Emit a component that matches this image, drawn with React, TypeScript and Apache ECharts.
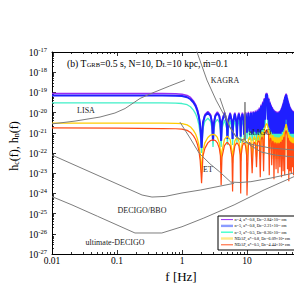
import React, { useEffect, useRef } from "react";
import * as echarts from "echarts";

const SERIF = "'Liberation Serif', 'Times New Roman', 'DejaVu Serif', serif";

// Frequency grid (Hz) shared by the five signal curves
const FREQ_HZ = [
  0.01, 0.1, 0.5, 0.8, 1.0, 1.2, 1.35, 1.5, 1.62, 1.73, 1.82, 1.9, 1.96, 2.0,
  2.1, 2.25, 2.5, 2.75, 2.9, 3.0, 3.1, 3.25, 3.5, 3.75, 3.9, 4.0,
  4.12, 4.5, 4.88, 5.0, 5.12, 5.5, 5.88, 6.0, 6.12, 6.5, 6.88, 7.0,
  7.15, 7.5, 7.85, 8.0, 8.15, 8.5, 8.85, 9.0, 9.15, 9.5, 9.85, 10.0,
  10.5, 11, 11.5, 12, 12.5, 13, 13.5, 14, 14.5, 15, 15.5, 16, 16.5, 17, 17.5, 18, 18.5, 19, 19.5, 20,
  20.5, 21, 21.5, 22, 22.5, 23, 23.5, 24, 24.5, 25, 25.5, 26, 26.5, 27, 27.5, 28, 28.5, 29, 29.5, 30,
  30.5, 31, 31.5, 32, 32.5, 33, 33.5, 34, 34.5, 35, 35.5, 36, 36.5, 37, 37.5, 38, 38.5, 39, 39.5, 40,
  40.5, 41, 41.5, 42, 42.5, 43, 43.5, 44, 44.5, 45, 45.5, 46, 46.5, 47, 47.5, 48, 48.5, 49, 49.5, 50,
  50.5, 51, 51.5, 52, 52.5, 53,
];

// log10 h_c for each signal curve
const LOG_HC_N4_A08 = [
  -19.06, -19.06, -19.06, -19.07, -19.09, -19.15, -19.25, -19.42, -19.6, -19.85, -20.15, -20.55, -21.1, -21.7,
  -20.46, -20.1, -19.95, -20.1, -20.46, -21.4, -20.48, -20.12, -19.97, -20.12, -20.48, -21.4,
  -20.41, -19.98, -20.41, -21.3, -20.43, -20.0, -20.43, -21.3, -20.43, -20.0, -20.43, -21.2,
  -20.34, -20.0, -20.34, -21.2, -20.34, -20.0, -20.34, -21.1, -20.33, -19.98, -20.33, -21.0,
  -19.96, -20.9, -19.95, -21.0, -19.93, -20.9, -19.9, -21.0, -19.85, -20.9, -19.75, -20.95, -19.6, -20.8, -19.45, -20.7, -19.28, -20.3, -19.1, -19.03,
  -19.1, -20.3, -19.27, -20.7, -19.45, -20.8, -19.6, -20.9, -19.72, -21.0, -19.82, -20.9, -19.88, -21.0, -19.92, -20.9, -19.95, -21.0, -19.96, -20.9,
  -19.95, -21.0, -19.92, -20.9, -19.88, -21.0, -19.8, -20.9, -19.7, -20.9, -19.58, -20.8, -19.45, -20.7, -19.3, -20.6, -19.17, -20.3, -19.08, -19.05,
  -19.1, -20.3, -19.22, -20.6, -19.35, -20.7, -19.48, -20.8, -19.58, -20.9, -19.68, -20.9, -19.75, -21.0, -19.8, -20.9, -19.85, -21.0, -19.88, -20.9,
  -19.9, -21.0, -19.92, -20.9, -19.93, -21.0,
];

const LOG_HC_N5_A08 = [
  -19.15, -19.15, -19.15, -19.16, -19.18, -19.24, -19.34, -19.5, -19.68, -19.93, -20.22, -20.62, -21.17, -21.75,
  -20.52, -20.16, -20.01, -20.16, -20.52, -21.4, -20.54, -20.18, -20.03, -20.18, -20.54, -21.4,
  -20.47, -20.04, -20.47, -21.3, -20.49, -20.06, -20.49, -21.3, -20.49, -20.06, -20.49, -21.2,
  -20.4, -20.06, -20.4, -21.2, -20.4, -20.06, -20.4, -21.1, -20.38, -20.04, -20.38, -21.0,
  -20.02, -20.95, -20.01, -21.05, -19.99, -20.95, -19.96, -21.05, -19.91, -20.95, -19.81, -21.0, -19.66, -20.85, -19.51, -20.75, -19.34, -20.35, -19.16, -19.09,
  -19.16, -20.35, -19.33, -20.75, -19.51, -20.85, -19.66, -20.95, -19.78, -21.05, -19.88, -20.95, -19.94, -21.05, -19.98, -20.95, -20.01, -21.05, -20.02, -20.95,
  -20.01, -21.05, -19.98, -20.95, -19.94, -21.05, -19.86, -20.95, -19.76, -20.95, -19.64, -20.85, -19.51, -20.75, -19.36, -20.65, -19.23, -20.35, -19.14, -19.11,
  -19.16, -20.35, -19.28, -20.65, -19.41, -20.75, -19.54, -20.85, -19.64, -20.95, -19.74, -20.95, -19.81, -21.05, -19.86, -20.95, -19.91, -21.05, -19.94, -20.95,
  -19.96, -21.05, -19.98, -20.95, -19.99, -21.05,
];

const LOG_HC_N3_A05 = [
  -19.52, -19.52, -19.52, -19.53, -19.55, -19.61, -19.71, -19.88, -20.06, -20.31, -20.61, -21.01, -21.55, -22.0,
  -20.79, -20.43, -20.28, -20.43, -20.79, -21.7, -20.84, -20.48, -20.33, -20.48, -20.84, -21.7,
  -20.79, -20.36, -20.79, -21.6, -20.81, -20.38, -20.81, -21.6, -20.81, -20.38, -20.81, -21.5,
  -20.7, -20.36, -20.7, -21.5, -20.69, -20.35, -20.69, -21.4, -20.68, -20.34, -20.68, -21.3,
  -20.38, -21.35, -20.38, -21.4, -20.37, -21.35, -20.35, -21.4, -20.3, -21.35, -20.23, -21.35, -20.12, -21.25, -19.98, -21.15, -19.82, -20.75, -19.57, -19.48,
  -19.57, -20.75, -19.78, -21.15, -19.95, -21.25, -20.09, -21.35, -20.19, -21.4, -20.27, -21.35, -20.32, -21.4, -20.36, -21.35, -20.38, -21.4, -20.39, -21.35,
  -20.38, -21.4, -20.36, -21.35, -20.32, -21.4, -20.26, -21.35, -20.17, -21.35, -20.06, -21.25, -19.93, -21.15, -19.8, -21.05, -19.67, -20.75, -19.54, -19.5,
  -19.57, -20.75, -19.7, -21.05, -19.83, -21.15, -19.95, -21.25, -20.06, -21.35, -20.14, -21.35, -20.21, -21.4, -20.26, -21.35, -20.3, -21.4, -20.33, -21.35,
  -20.35, -21.4, -20.36, -21.35, -20.37, -21.4,
];

const LOG_HC_NDAF_A08 = [
  -20.52, -20.52, -20.52, -20.53, -20.55, -20.61, -20.71, -20.88, -21.06, -21.31, -21.61, -22.0, -22.5, -23.0,
  -21.88, -21.5, -21.23, -21.11, -21.09, -21.08, -21.09, -21.11, -21.23, -21.5, -21.88, -22.5,
  -21.91, -21.33, -21.19, -21.18, -21.19, -21.33, -21.91, -22.5, -21.98, -21.4, -21.26, -21.25,
  -21.27, -21.4, -21.85, -22.4, -21.87, -21.42, -21.29, -21.27, -21.29, -21.42, -21.87, -22.4,
  -21.35, -21.2, -21.33, -22.3, -21.33, -21.18, -21.3, -22.2, -21.25, -21.1, -21.2, -22.3, -21.1, -20.95, -21.05, -22.1, -20.85, -20.72, -20.6, -20.55,
  -20.6, -20.72, -20.85, -22.1, -21.1, -20.98, -21.1, -22.3, -21.25, -21.12, -21.25, -22.2, -21.33, -21.2, -21.33, -22.3, -21.35, -21.22, -21.36, -22.3,
  -21.36, -21.22, -21.35, -22.2, -21.32, -21.18, -21.3, -22.3, -21.25, -21.1, -21.2, -22.2, -21.08, -20.95, -21.05, -22.1, -20.85, -20.72, -20.62, -20.58,
  -20.63, -20.75, -20.88, -22.1, -21.1, -20.98, -21.1, -22.2, -21.22, -21.1, -21.22, -22.3, -21.3, -21.18, -21.3, -22.2, -21.35, -21.22, -21.36, -22.3,
  -21.38, -21.24, -21.38, -22.3, -21.39, -21.25,
];

const LOG_HC_NDAF_A05 = [
  -20.76, -20.77, -20.79, -20.8, -20.82, -20.88, -20.98, -21.15, -21.33, -21.58, -21.9, -22.35, -23.0, -23.5,
  -22.15, -21.77, -21.5, -21.38, -21.36, -21.35, -21.36, -21.38, -21.5, -21.77, -22.15, -23.6,
  -22.21, -21.63, -21.49, -21.48, -21.49, -21.63, -22.21, -23.9, -22.23, -21.65, -21.51, -21.5,
  -21.52, -21.65, -22.1, -24.0, -22.1, -21.65, -21.52, -21.5, -21.52, -21.65, -22.1, -24.1,
  -21.62, -21.47, -21.6, -23.0, -21.6, -21.45, -21.56, -22.7, -21.52, -21.38, -21.45, -23.2, -21.35, -21.2, -21.3, -22.9, -21.12, -21.0, -20.9, -20.85,
  -20.9, -21.0, -21.12, -23.1, -21.38, -21.25, -21.37, -22.6, -21.52, -21.4, -21.52, -23.3, -21.6, -21.48, -21.6, -22.8, -21.62, -21.5, -21.63, -23.0,
  -21.63, -21.5, -21.62, -22.7, -21.58, -21.45, -21.56, -23.2, -21.5, -21.35, -21.45, -22.9, -21.32, -21.2, -21.3, -23.1, -21.12, -21.0, -20.92, -20.88,
  -20.93, -21.05, -21.15, -22.8, -21.38, -21.25, -21.36, -23.4, -21.5, -21.38, -21.5, -22.9, -21.57, -21.45, -21.57, -23.0, -21.62, -21.5, -21.63, -22.7,
  -21.65, -21.52, -21.65, -23.1, -21.66, -21.52,
];

// Detector sensitivity curves: [f (Hz), log10 h_n]
const LISA: [number, number][] = [
  [0.01, -20.56], [0.0226, -20.42], [0.0548, -20.22], [0.093, -20.02], [0.133, -19.8],
  [0.226, -19.3], [0.32, -19.08], [0.65, -18.68], [1.11, -18.39],
];
const KAGRA: [number, number][] = [
  [1.5, -16.5], [1.7, -17.0], [2.42, -18.39], [3.34, -19.38], [4.27, -20.02], [5.47, -20.71],
  [6.77, -21.21], [9.0, -21.46], [12.8, -21.6], [22.6, -21.75], [52.8, -21.85], [100, -21.9],
];
const ALIGO: [number, number][] = [
  [3.83, -19.28], [4.8, -20.2], [5.47, -20.76], [6.77, -21.16], [7.8, -21.31], [9.15, -21.36],
  [9.31, -19.48], [9.48, -21.38], [11.0, -21.6], [16.5, -21.95], [26.9, -22.1], [52.8, -22.2], [100, -22.25],
];
const ET: [number, number][] = [
  [0.93, -20.47], [1.33, -21.26], [1.83, -22.0], [2.7, -22.54], [3.82, -22.94], [5.63, -23.44],
  [7.8, -23.46], [11.5, -23.42], [23.3, -23.24], [52.8, -22.99], [100, -22.84],
];
const DECIGO_BBO: [number, number][] = [
  [0.01, -22.1], [0.1, -23.53], [0.243, -24.08], [0.345, -24.18], [0.55, -24.15], [1.0, -23.98],
  [1.94, -23.83], [3.46, -23.67], [6.33, -23.5],
];
const ULTIMATE_DECIGO: [number, number][] = [
  [0.01, -24.16], [0.0203, -24.57], [0.05, -25.13], [0.189, -25.96], [0.49, -25.96], [1.0, -25.65],
  [2.17, -25.22], [6.33, -24.57], [18.3, -23.83], [52.8, -23.17], [100, -22.84],
];

// Draw order: purple, cyan, blue, yellow, orange (legend order is kept separately)
const SIGNALS = [
  { name: "n=4, a*=0.8, Dc=2.84×10¹¹ cm", values: LOG_HC_N4_A08, color: "#9a2cf2", width: 1.5, legendColor: "#9a2cf2", legendWidth: 1, row: 0 },
  { name: "n=3, a*=0.5, Dc=8.26×10¹¹ cm", values: LOG_HC_N3_A05, color: "#3ff0c8", width: 1.3, legendColor: "#3fffcc", legendWidth: 1.4, row: 2 },
  { name: "n=5, a*=0.8, Dc=2.21×10¹¹ cm", values: LOG_HC_N5_A08, color: "#1f1fff", width: 2.0, legendColor: "#8a9cff", legendWidth: 2.4, row: 1 },
  { name: "NDAF, a*=0.8, Dc=6.09×10⁸ cm", values: LOG_HC_NDAF_A08, color: "#ffcc00", width: 1.3, legendColor: "#ffe98c", legendWidth: 2.4, row: 3 },
  { name: "NDAF, a*=0.5, Dc=4.44×10⁸ cm", values: LOG_HC_NDAF_A05, color: "#ff4a14", width: 1.2, legendColor: "#ff5522", legendWidth: 1, row: 4 },
];

const DETECTORS = [
  { name: "LISA", pts: LISA },
  { name: "KAGRA", pts: KAGRA },
  { name: "aLIGO", pts: ALIGO },
  { name: "ET", pts: ET },
  { name: "DECIGO/BBO", pts: DECIGO_BBO },
  { name: "ultimate-DECIGO", pts: ULTIMATE_DECIGO },
];

const DETECTOR_LABELS = [
  { text: "LISA", x: 86, y: 110 },
  { text: "KAGRA", x: 225, y: 80 },
  { text: "aLIGO", x: 260, y: 132 },
  { text: "ET", x: 208, y: 169 },
  { text: "DECIGO/BBO", x: 142, y: 210 },
  { text: "ultimate-DECIGO", x: 115, y: 242 },
];

const X_MIN = 0.01;
const X_MAX = 100;
const Y_MIN = 1e-27;
const Y_MAX = 1e-17;
const X_DECADES = [-2, -1, 0, 1, 2];
const Y_DECADES = [-27, -26, -25, -24, -23, -22, -21, -20, -19, -18, -17];

function decadeValue(e: number) {
  return parseFloat("1e" + e);
}
function majorTicks(decs: number[]) {
  const v = decs.map(decadeValue);
  v[0] = v[0] * (1 + 1e-9);
  v[v.length - 1] = v[v.length - 1] * (1 - 1e-9);
  return v;
}
function minorTicks(decs: number[]) {
  const out: number[] = [];
  for (let i = 0; i < decs.length - 1; i++) {
    for (let k = 2; k <= 9; k++) out.push(k * decadeValue(decs[i]));
  }
  return out;
}

const X_MAJOR = majorTicks(X_DECADES);
const X_MINOR = minorTicks(X_DECADES);
const X_LABELED = X_MAJOR.slice(0, 4);
const Y_MAJOR = majorTicks(Y_DECADES);
const Y_MINOR = minorTicks(Y_DECADES);

function xLabel(v: number) {
  const l = Math.log10(v);
  const e = Math.round(l);
  if (Math.abs(l - e) > 1e-4 || e > 1) return "";
  return e < 0 ? Math.pow(10, e).toFixed(-e) : String(Math.round(Math.pow(10, e)));
}
function yLabel(v: number) {
  const e = Math.round(Math.log10(v));
  return "{b|10}{s|" + e + "}";
}

function makeXAxis(position: "top" | "bottom", major: boolean) {
  return {
    type: "log",
    logBase: 10,
    min: X_MIN,
    max: X_MAX,
    position,
    gridIndex: 0,
    axisLine: { show: major, onZero: false, lineStyle: { color: "#000", width: 1 } },
    axisTick: {
      show: true,
      inside: true,
      length: major ? 4 : 2,
      customValues: major ? X_MAJOR : X_MINOR,
      lineStyle: { color: "#000", width: 0.8 },
    },
    axisLabel: {
      show: major && position === "bottom",
      customValues: X_LABELED,
      formatter: xLabel,
      margin: 2,
      fontFamily: SERIF,
      fontSize: 9.5,
      color: "#000",
    },
    splitLine: { show: false },
    minorTick: { show: false },
    minorSplitLine: { show: false },
  };
}

function makeYAxis(position: "left" | "right", major: boolean) {
  return {
    type: "log",
    logBase: 10,
    min: Y_MIN,
    max: Y_MAX,
    position,
    gridIndex: 0,
    axisLine: { show: major, onZero: false, lineStyle: { color: "#000", width: 1 } },
    axisTick: {
      show: true,
      inside: true,
      length: major ? 4 : 2,
      customValues: major ? Y_MAJOR : Y_MINOR,
      lineStyle: { color: "#000", width: 0.8 },
    },
    axisLabel: {
      show: major && position === "left",
      customValues: Y_MAJOR,
      formatter: yLabel,
      margin: 5,
      rich: {
        b: { fontFamily: SERIF, fontSize: 9.5, lineHeight: 12, verticalAlign: "bottom", color: "#000" },
        s: { fontFamily: SERIF, fontSize: 6.5, lineHeight: 6, verticalAlign: "top", color: "#000" },
      },
    },
    splitLine: { show: false },
    minorTick: { show: false },
    minorSplitLine: { show: false },
  };
}

const LEGEND_TOP = 216;
const LEGEND_LEFT = 218;
const LEGEND_ROW = 6.3;

function buildOption() {
  const signalSeries = SIGNALS.map((s) => ({
    type: "line",
    name: s.name,
    xAxisIndex: 0,
    yAxisIndex: 0,
    showSymbol: false,
    symbol: "none",
    silent: true,
    lineStyle: { color: s.color, width: s.width },
    data: FREQ_HZ.map((f, i) => [f, Math.pow(10, s.values[i])]),
  }));
  const detectorSeries = DETECTORS.map((d) => ({
    type: "line",
    name: d.name,
    xAxisIndex: 0,
    yAxisIndex: 0,
    showSymbol: false,
    symbol: "none",
    silent: true,
    lineStyle: { color: "#7d7d7d", width: 1 },
    data: d.pts.map(([f, l]) => [f, Math.pow(10, l)]),
  }));

  const labelRich = {
    n: { fontFamily: SERIF, fontSize: 9.7, lineHeight: 12, verticalAlign: "bottom", color: "#000" },
    s: { fontFamily: SERIF, fontSize: 6.5, lineHeight: 4, verticalAlign: "bottom", color: "#000" },
  };

  const graphics: any[] = [
    {
      type: "text",
      x: 67,
      y: 62,
      z: 50,
      style: {
        text: "{n|(b) T}{s|GRB}{n|=0.5 s, N=10, D}{s|L}{n|=10 kpc, ṁ=0.1}",
        rich: labelRich,
        align: "left",
        verticalAlign: "middle",
      },
    },
    {
      type: "text",
      x: 13,
      y: 146,
      rotation: Math.PI / 2,
      z: 50,
      style: {
        text: "{n|h}{s|c}{n|(f), h}{s|n}{n|(f)}",
        rich: {
          n: { fontFamily: SERIF, fontSize: 12, lineHeight: 14, verticalAlign: "bottom", color: "#000" },
          s: { fontFamily: SERIF, fontSize: 8, lineHeight: 5, verticalAlign: "bottom", color: "#000" },
        },
        align: "center",
        verticalAlign: "middle",
      },
    },
    {
      type: "text",
      x: 181,
      y: 276,
      z: 50,
      style: {
        text: "f [Hz]",
        fontFamily: SERIF,
        fontSize: 13,
        fill: "#000",
        align: "center",
        verticalAlign: "middle",
      },
    },
    ...DETECTOR_LABELS.map((l) => ({
      type: "text",
      x: l.x,
      y: l.y,
      z: 50,
      style: {
        text: l.text,
        fontFamily: SERIF,
        fontSize: 8,
        fill: "#222",
        align: "center",
        verticalAlign: "middle",
      },
    })),
    {
      type: "rect",
      z: 100,
      shape: { x: LEGEND_LEFT, y: LEGEND_TOP, width: 110, height: 34 },
      style: { fill: "#fff", stroke: "#000", lineWidth: 1 },
    },
    ...SIGNALS.map((s) => ({
      type: "line",
      z: 101,
      shape: {
        x1: LEGEND_LEFT + 3,
        y1: LEGEND_TOP + 3.6 + s.row * LEGEND_ROW,
        x2: LEGEND_LEFT + 15,
        y2: LEGEND_TOP + 3.6 + s.row * LEGEND_ROW,
      },
      style: { stroke: s.legendColor, lineWidth: s.legendWidth },
    })),
    ...SIGNALS.map((s) => ({
      type: "text",
      z: 101,
      x: LEGEND_LEFT + 16.5,
      y: LEGEND_TOP + 3.6 + s.row * LEGEND_ROW,
      style: {
        text: s.name,
        fontFamily: SERIF,
        fontSize: 4.2,
        fill: "#000",
        align: "left",
        verticalAlign: "middle",
      },
    })),
  ];

  return {
    animation: false,
    backgroundColor: "#fff",
    textStyle: { fontFamily: SERIF },
    grid: { left: 52, top: 52, width: 260, height: 202, containLabel: false, outerBoundsMode: "none" },
    xAxis: [makeXAxis("bottom", true), makeXAxis("bottom", false), makeXAxis("top", true), makeXAxis("top", false)],
    yAxis: [makeYAxis("left", true), makeYAxis("left", false), makeYAxis("right", true), makeYAxis("right", false)],
    series: [...signalSeries, ...detectorSeries],
    graphic: graphics,
  };
}

export default function App() {
  const ref = useRef<HTMLDivElement>(null);
  useEffect(() => {
    if (!ref.current) return;
    const chart = echarts.init(ref.current, null, { renderer: "svg" });
    chart.setOption(buildOption() as any);
    return () => chart.dispose();
  }, []);
  return (
    <div
      style={{
        position: "fixed",
        left: 0,
        top: 0,
        width: 294,
        height: 294,
        overflow: "hidden",
        background: "#fff",
      }}
    >
      <div ref={ref} style={{ width: 330, height: 294 }} />
    </div>
  );
}
